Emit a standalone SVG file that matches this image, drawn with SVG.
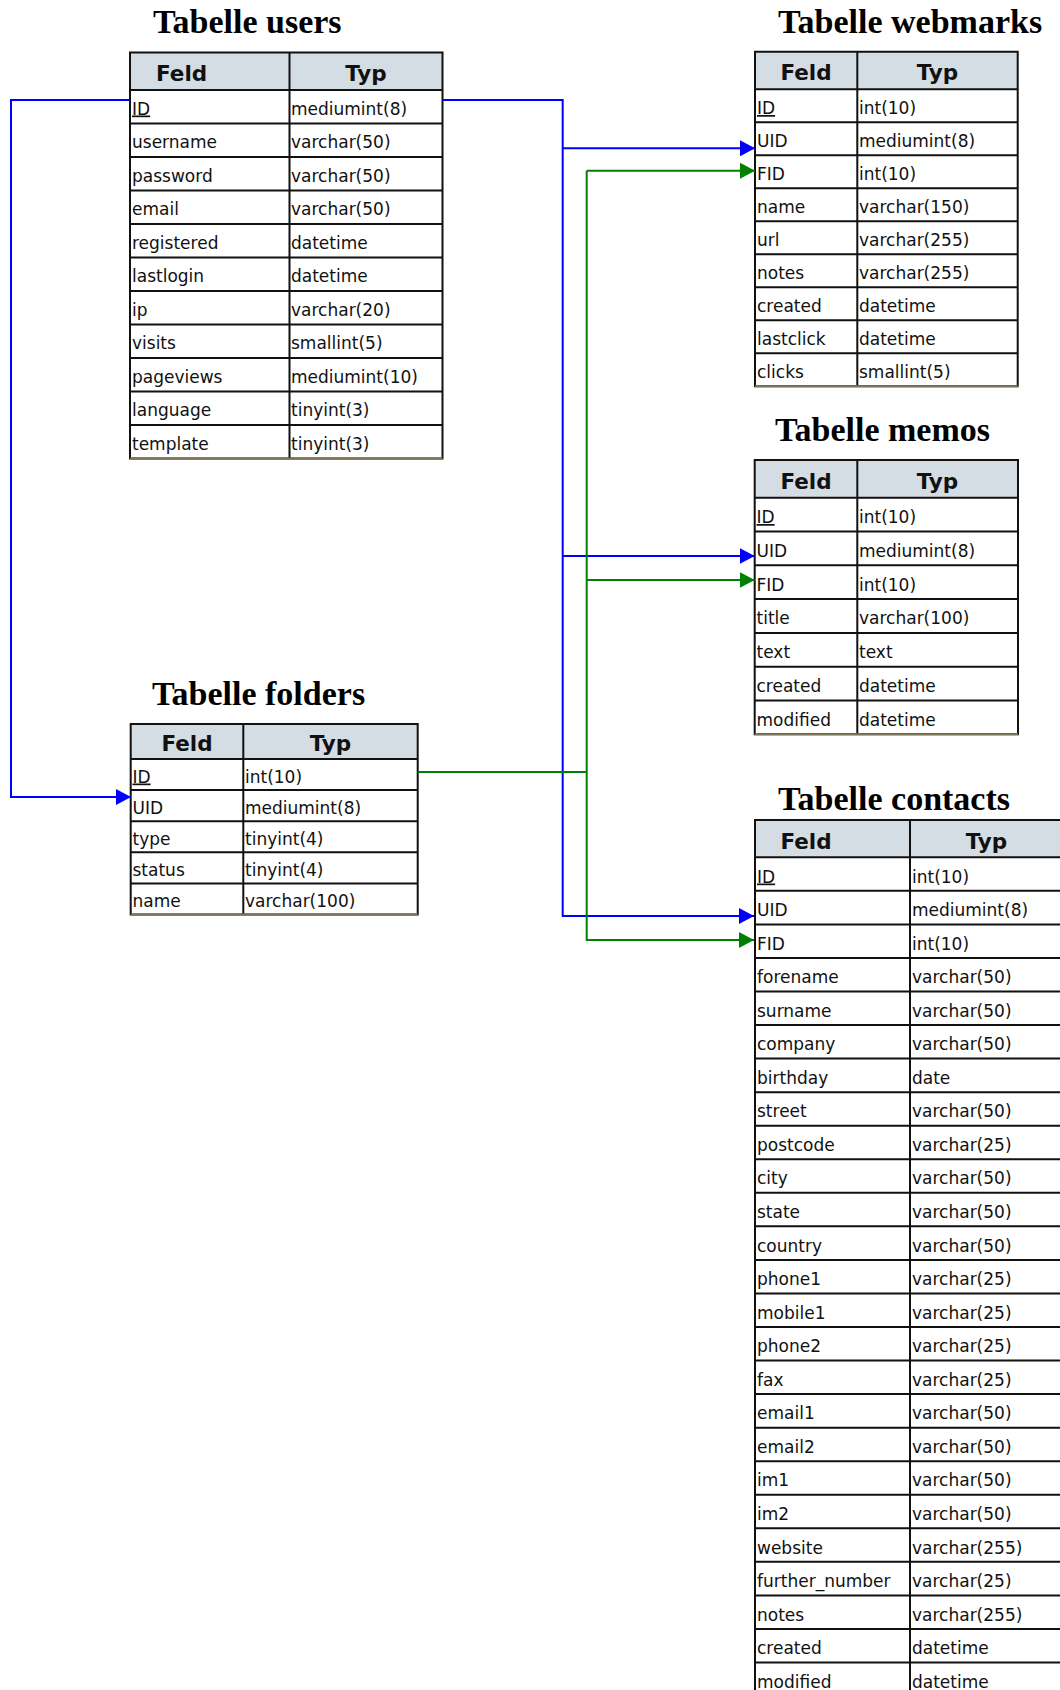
<svg xmlns="http://www.w3.org/2000/svg" width="1060" height="1690" viewBox="0 0 1060 1690">
<style>
.title{font-family:"Liberation Serif","Times New Roman",serif;font-weight:bold;font-size:34px;fill:#000}
.hd{font-family:"DejaVu Sans",Verdana,sans-serif;font-weight:bold;font-size:21.5px;fill:#111}
.c{font-family:"DejaVu Sans",Verdana,sans-serif;font-size:17px;fill:#111}
.u{text-decoration:underline}
.hfill{fill:#d4dce4;stroke:none}
.grid{stroke:#111;stroke-width:2;fill:none}
.bot{stroke:#7f775a;stroke-width:2}
.blue{stroke:#0000ff;stroke-width:2;fill:none}
.green{stroke:#008000;stroke-width:2;fill:none}
</style>
<defs>
<marker id="ab" markerUnits="userSpaceOnUse" markerWidth="15" markerHeight="16" refX="15" refY="8" orient="auto" viewBox="0 0 15 16"><path d="M0,0 L15,8 L0,16 z" fill="#0000ff"/></marker>
<marker id="ag" markerUnits="userSpaceOnUse" markerWidth="15" markerHeight="16" refX="15" refY="8" orient="auto" viewBox="0 0 15 16"><path d="M0,0 L15,8 L0,16 z" fill="#008000"/></marker>
</defs>
<rect width="1060" height="1690" fill="#fff"/>

<g id="users">
<text class="title" x="153" y="33">Tabelle users</text>
<rect class="hfill" x="130" y="52.5" width="312.5" height="37.5"/>
<path class="grid" d="M130,52.5H442.5V458.5H130Z M289.5,52.5V458.5 M130,90H442.5 M130,123.5H442.5 M130,157H442.5 M130,190.5H442.5 M130,224H442.5 M130,257.5H442.5 M130,291H442.5 M130,324.5H442.5 M130,358H442.5 M130,391.5H442.5 M130,425H442.5"/>
<path class="bot" d="M130,458.5H442.5"/>
<text class="hd" x="156" y="81">Feld</text>
<text class="hd" x="366" y="81" text-anchor="middle">Typ</text>
<text class="c u" x="132" y="114.5">ID</text><text class="c" x="291" y="114.5">mediumint(8)</text>
<text class="c" x="132" y="148">username</text><text class="c" x="291" y="148">varchar(50)</text>
<text class="c" x="132" y="181.5">password</text><text class="c" x="291" y="181.5">varchar(50)</text>
<text class="c" x="132" y="215">email</text><text class="c" x="291" y="215">varchar(50)</text>
<text class="c" x="132" y="248.5">registered</text><text class="c" x="291" y="248.5">datetime</text>
<text class="c" x="132" y="282">lastlogin</text><text class="c" x="291" y="282">datetime</text>
<text class="c" x="132" y="315.5">ip</text><text class="c" x="291" y="315.5">varchar(20)</text>
<text class="c" x="132" y="349">visits</text><text class="c" x="291" y="349">smallint(5)</text>
<text class="c" x="132" y="382.5">pageviews</text><text class="c" x="291" y="382.5">mediumint(10)</text>
<text class="c" x="132" y="416">language</text><text class="c" x="291" y="416">tinyint(3)</text>
<text class="c" x="132" y="449.5">template</text><text class="c" x="291" y="449.5">tinyint(3)</text>
</g>

<g id="webmarks">
<text class="title" x="778" y="33">Tabelle webmarks</text>
<rect class="hfill" x="755" y="51.7" width="262.7" height="37.6"/>
<path class="grid" d="M755,51.7H1017.7V386.3H755Z M857.3,51.7V386.3 M755,89.3H1017.7 M755,122.3H1017.7 M755,155.3H1017.7 M755,188.3H1017.7 M755,221.3H1017.7 M755,254.3H1017.7 M755,287.3H1017.7 M755,320.3H1017.7 M755,353.3H1017.7"/>
<path class="bot" d="M755,386.3H1017.7"/>
<text class="hd" x="806" y="80" text-anchor="middle">Feld</text>
<text class="hd" x="937.5" y="80" text-anchor="middle">Typ</text>
<text class="c u" x="757" y="114">ID</text><text class="c" x="859" y="114">int(10)</text>
<text class="c" x="757" y="147">UID</text><text class="c" x="859" y="147">mediumint(8)</text>
<text class="c" x="757" y="180">FID</text><text class="c" x="859" y="180">int(10)</text>
<text class="c" x="757" y="213">name</text><text class="c" x="859" y="213">varchar(150)</text>
<text class="c" x="757" y="246">url</text><text class="c" x="859" y="246">varchar(255)</text>
<text class="c" x="757" y="279">notes</text><text class="c" x="859" y="279">varchar(255)</text>
<text class="c" x="757" y="312">created</text><text class="c" x="859" y="312">datetime</text>
<text class="c" x="757" y="345">lastclick</text><text class="c" x="859" y="345">datetime</text>
<text class="c" x="757" y="378">clicks</text><text class="c" x="859" y="378">smallint(5)</text>
</g>

<g id="memos">
<text class="title" x="775" y="440.7">Tabelle memos</text>
<rect class="hfill" x="754.7" y="460" width="263.3" height="37.7"/>
<path class="grid" d="M754.7,460H1018V734.3H754.7Z M857.3,460V734.3 M754.7,497.7H1018 M754.7,531.5H1018 M754.7,565.3H1018 M754.7,599.1H1018 M754.7,632.9H1018 M754.7,666.7H1018 M754.7,700.5H1018"/>
<path class="bot" d="M754.7,734.3H1018"/>
<text class="hd" x="806" y="488.5" text-anchor="middle">Feld</text>
<text class="hd" x="937.5" y="488.5" text-anchor="middle">Typ</text>
<text class="c u" x="756.5" y="523">ID</text><text class="c" x="859" y="523">int(10)</text>
<text class="c" x="756.5" y="556.8">UID</text><text class="c" x="859" y="556.8">mediumint(8)</text>
<text class="c" x="756.5" y="590.6">FID</text><text class="c" x="859" y="590.6">int(10)</text>
<text class="c" x="756.5" y="624.4">title</text><text class="c" x="859" y="624.4">varchar(100)</text>
<text class="c" x="756.5" y="658.2">text</text><text class="c" x="859" y="658.2">text</text>
<text class="c" x="756.5" y="692">created</text><text class="c" x="859" y="692">datetime</text>
<text class="c" x="756.5" y="725.8">modified</text><text class="c" x="859" y="725.8">datetime</text>
</g>

<g id="folders">
<text class="title" x="152" y="705">Tabelle folders</text>
<rect class="hfill" x="130.7" y="724" width="287" height="35"/>
<path class="grid" d="M130.7,724H417.7V914.5H130.7Z M243.3,724V914.5 M130.7,759H417.7 M130.7,790.1H417.7 M130.7,821.2H417.7 M130.7,852.3H417.7 M130.7,883.4H417.7"/>
<path class="bot" d="M130.7,914.5H417.7"/>
<text class="hd" x="187" y="750.5" text-anchor="middle">Feld</text>
<text class="hd" x="330.5" y="750.5" text-anchor="middle">Typ</text>
<text class="c u" x="132.5" y="782.5">ID</text><text class="c" x="245" y="782.5">int(10)</text>
<text class="c" x="132.5" y="813.6">UID</text><text class="c" x="245" y="813.6">mediumint(8)</text>
<text class="c" x="132.5" y="844.7">type</text><text class="c" x="245" y="844.7">tinyint(4)</text>
<text class="c" x="132.5" y="875.8">status</text><text class="c" x="245" y="875.8">tinyint(4)</text>
<text class="c" x="132.5" y="906.9">name</text><text class="c" x="245" y="906.9">varchar(100)</text>
</g>

<g id="contacts">
<text class="title" x="778" y="810">Tabelle contacts</text>
<rect class="hfill" x="755" y="820" width="308" height="37.3"/>
<path class="grid" d="M1063,820H755V1700 M910,820V1700 M755,857.3H1063 M755,890.85H1063 M755,924.4H1063 M755,957.95H1063 M755,991.5H1063 M755,1025.05H1063 M755,1058.6H1063 M755,1092.15H1063 M755,1125.7H1063 M755,1159.25H1063 M755,1192.8H1063 M755,1226.35H1063 M755,1259.9H1063 M755,1293.45H1063 M755,1327H1063 M755,1360.55H1063 M755,1394.1H1063 M755,1427.65H1063 M755,1461.2H1063 M755,1494.75H1063 M755,1528.3H1063 M755,1561.85H1063 M755,1595.4H1063 M755,1628.95H1063 M755,1662.5H1063"/>
<text class="hd" x="806" y="848.5" text-anchor="middle">Feld</text>
<text class="hd" x="986.5" y="848.5" text-anchor="middle">Typ</text>
<text class="c u" x="757" y="882.5">ID</text><text class="c" x="912" y="882.5">int(10)</text>
<text class="c" x="757" y="916">UID</text><text class="c" x="912" y="916">mediumint(8)</text>
<text class="c" x="757" y="949.6">FID</text><text class="c" x="912" y="949.6">int(10)</text>
<text class="c" x="757" y="983.1">forename</text><text class="c" x="912" y="983.1">varchar(50)</text>
<text class="c" x="757" y="1016.7">surname</text><text class="c" x="912" y="1016.7">varchar(50)</text>
<text class="c" x="757" y="1050.2">company</text><text class="c" x="912" y="1050.2">varchar(50)</text>
<text class="c" x="757" y="1083.8">birthday</text><text class="c" x="912" y="1083.8">date</text>
<text class="c" x="757" y="1117.3">street</text><text class="c" x="912" y="1117.3">varchar(50)</text>
<text class="c" x="757" y="1150.9">postcode</text><text class="c" x="912" y="1150.9">varchar(25)</text>
<text class="c" x="757" y="1184.4">city</text><text class="c" x="912" y="1184.4">varchar(50)</text>
<text class="c" x="757" y="1218">state</text><text class="c" x="912" y="1218">varchar(50)</text>
<text class="c" x="757" y="1251.5">country</text><text class="c" x="912" y="1251.5">varchar(50)</text>
<text class="c" x="757" y="1285.1">phone1</text><text class="c" x="912" y="1285.1">varchar(25)</text>
<text class="c" x="757" y="1318.6">mobile1</text><text class="c" x="912" y="1318.6">varchar(25)</text>
<text class="c" x="757" y="1352.2">phone2</text><text class="c" x="912" y="1352.2">varchar(25)</text>
<text class="c" x="757" y="1385.7">fax</text><text class="c" x="912" y="1385.7">varchar(25)</text>
<text class="c" x="757" y="1419.3">email1</text><text class="c" x="912" y="1419.3">varchar(50)</text>
<text class="c" x="757" y="1452.8">email2</text><text class="c" x="912" y="1452.8">varchar(50)</text>
<text class="c" x="757" y="1486.4">im1</text><text class="c" x="912" y="1486.4">varchar(50)</text>
<text class="c" x="757" y="1519.9">im2</text><text class="c" x="912" y="1519.9">varchar(50)</text>
<text class="c" x="757" y="1553.5">website</text><text class="c" x="912" y="1553.5">varchar(255)</text>
<text class="c" x="757" y="1587">further_number</text><text class="c" x="912" y="1587">varchar(25)</text>
<text class="c" x="757" y="1620.6">notes</text><text class="c" x="912" y="1620.6">varchar(255)</text>
<text class="c" x="757" y="1654.1">created</text><text class="c" x="912" y="1654.1">datetime</text>
<text class="c" x="757" y="1687.7">modified</text><text class="c" x="912" y="1687.7">datetime</text>
</g>

<g id="connectors">
<path class="blue" d="M130,100H11V797H131" marker-end="url(#ab)"/>
<path class="blue" d="M442.5,100H562.7V916H754" marker-end="url(#ab)"/>
<path class="blue" d="M562.7,148.3H755" marker-end="url(#ab)"/>
<path class="blue" d="M562.7,556H754.7" marker-end="url(#ab)"/>
<path class="green" d="M417.7,772H586.7"/>
<path class="green" d="M586.7,170.7V940H754" marker-end="url(#ag)"/>
<path class="green" d="M586.7,170.7H755" marker-end="url(#ag)"/>
<path class="green" d="M586.7,580H754.7" marker-end="url(#ag)"/>
</g>
</svg>
